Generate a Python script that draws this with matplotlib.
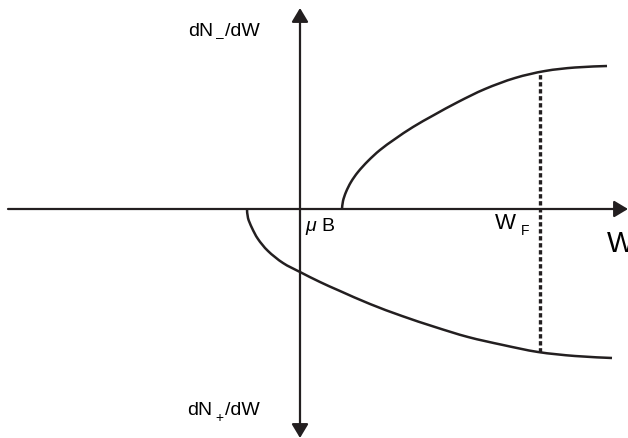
import numpy as np
import matplotlib
matplotlib.use("Agg")
import matplotlib.pyplot as plt
from matplotlib.path import Path
from matplotlib.patches import PathPatch

plt.rcParams['font.family'] = ['Liberation Sans', 'DejaVu Sans']
plt.rcParams['mathtext.fontset'] = 'custom'
plt.rcParams['mathtext.rm'] = 'Liberation Sans'
plt.rcParams['mathtext.it'] = 'Liberation Sans:italic'

INK = '#231f20'

# spin-down band (drawn above the W axis), shifted up by muB
up_w = [42, 43, 46, 51, 58, 68, 80, 95, 113, 134, 158, 185, 215, 245, 275, 307]
up_dos = [0, 8, 17, 27, 37, 48, 59, 70, 82, 94, 107, 120, 131, 138, 141.5, 143]

# spin-up band (drawn below the W axis), shifted down by muB
dn_w = [-53, -52, -48, -42, -32, -17, 0, 20, 40, 70, 102, 135, 168, 203, 238, 275, 312]
dn_dos = [0, -9, -19, -30, -42, -54, -63, -73, -82, -95, -107, -118, -128, -136, -143, -147, -149]

W_F = 240


def smooth_path(xs, ys):
    # Catmull-Rom through the points, written as cubic Bezier segments
    p = np.column_stack([xs, ys]).astype(float)
    ext = np.vstack([p[0], p, p[-1]])
    verts = [p[0]]
    codes = [Path.MOVETO]
    for i in range(1, len(ext) - 2):
        p0, p1, p2, p3 = ext[i - 1], ext[i], ext[i + 1], ext[i + 2]
        verts += [p1 + (p2 - p0) / 6, p2 - (p3 - p1) / 6, p2]
        codes += [Path.CURVE4] * 3
    return Path(verts, codes)


fig = plt.figure(figsize=(6.28, 4.38), dpi=100)
ax = fig.add_axes([0, 0, 1, 1])
ax.set_xlim(-300, 328)
ax.set_ylim(-229, 209)
ax.axis('off')

# axes with arrow heads
arrow = dict(arrowstyle='-|>,head_length=0.6,head_width=0.36', color=INK, lw=1.6,
             shrinkA=0, shrinkB=0, mutation_scale=14)
ax.annotate('', xy=(328, 0), xytext=(-292, 0), arrowprops=arrow)
ax.annotate('', xy=(0, 201), xytext=(0, 0), arrowprops=arrow)
ax.annotate('', xy=(0, -229), xytext=(0, 0), arrowprops=arrow)

for xs, ys in [(up_w, up_dos), (dn_w, dn_dos)]:
    ax.add_patch(PathPatch(smooth_path(xs, ys), fill=False, edgecolor=INK, lw=1.8,
                           capstyle='butt'))

# filled states up to the Fermi level
top = np.interp(W_F, up_w, up_dos)
bot = np.interp(W_F, dn_w, dn_dos)
ax.plot([W_F, W_F], [bot, top], color=INK, lw=2.4, linestyle=(0, (1.3, 0.8)))

ax.text(-112, 173, 'dN', fontsize=14, color='black', ha='left', va='baseline')
ax.text(-84, 167, '–', fontsize=10, color='black', ha='left', va='baseline')
ax.text(-75, 173, '/dW', fontsize=14, color='black', ha='left', va='baseline')
ax.text(-113, -206, 'dN', fontsize=14, color='black', ha='left', va='baseline')
ax.text(-85, -213, '+', fontsize=10, color='black', ha='left', va='baseline')
ax.text(-75, -206, '/dW', fontsize=14, color='black', ha='left', va='baseline')
ax.text(5, -22, r'$\mu$ B', fontsize=14, color='black', ha='left', va='baseline')
ax.text(195, -20, 'W', fontsize=16, color='black', ha='left', va='baseline')
ax.text(221, -26, 'F', fontsize=10, color='black', ha='left', va='baseline')
ax.text(307, -43, 'W', fontsize=21, color='black', ha='left', va='baseline')

fig.savefig('out.png', dpi=100)
